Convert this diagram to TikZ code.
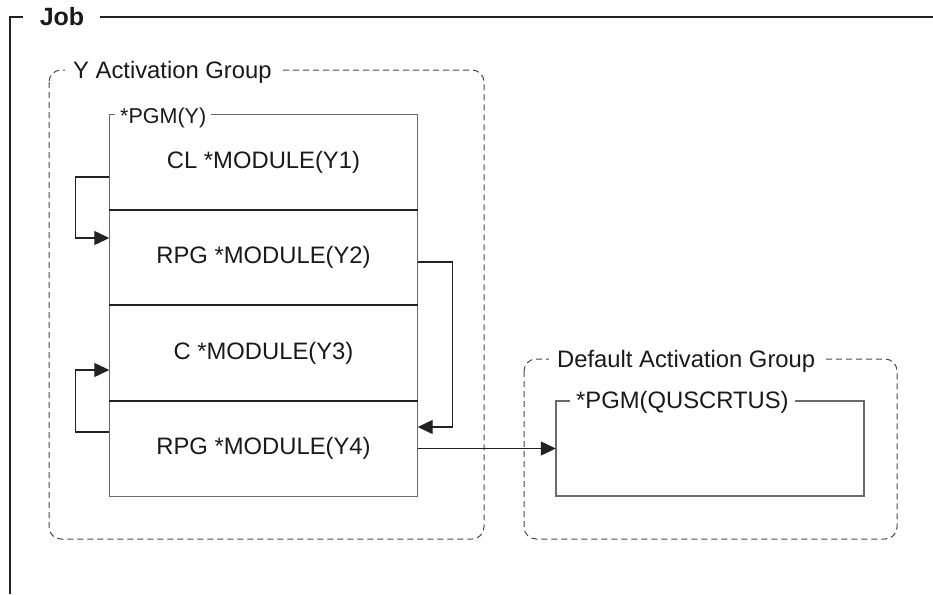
\documentclass[tikz,border=0pt]{standalone}
\usepackage{fontspec}
\setmainfont{Liberation Sans}
\usetikzlibrary{arrows.meta}
\definecolor{txt}{HTML}{1A1A1A}
\definecolor{boxc}{HTML}{6A6A6A}
\definecolor{dark}{HTML}{222222}
\definecolor{dashc}{HTML}{4A4A4A}
\tikzset{
  big/.style={font=\fontsize{23.8}{28}\selectfont, text=txt},
  small/.style={font=\fontsize{21.5}{25}\selectfont, text=txt},
  section/.style={minimum width=308pt, minimum height=95.5pt, inner sep=0pt, big},
  grp/.style={draw=dashc, line width=1pt, dash pattern=on 6pt off 4pt, rounded corners=12pt},
  pgmbox/.style={draw=boxc, line width=1.5pt},
  divider/.style={draw=dark, line width=2pt},
  gaplabel/.style={fill=white, inner xsep=6pt, inner ysep=2pt, anchor=base west},
  conn/.style={draw=dark, line width=1.2pt, -{Triangle[length=15pt,width=14pt]}},
  jobline/.style={draw=dark, line width=2.5pt},
}
\begin{document}
\begin{tikzpicture}[x=1pt, y=-1pt]
\useasboundingbox (0,0) rectangle (933,594);
% Job frame
\draw[jobline] (10,594) -- (10,17) -- (23,17);
\draw[jobline] (100,17) -- (933,17);
\node[anchor=base, inner sep=0pt, font=\fontsize{25}{30}\bfseries, text=txt] (job) at (62,26) {Job};
% Y activation group
\draw[grp] (49,70) rectangle (484,539);
\node[gaplabel, big, inner xsep=8pt] (yag) at (65,78) {Y Activation Group};
% Default activation group
\draw[grp] (524,359) rectangle (897,539);
\node[gaplabel, big, inner xsep=8pt] (dag) at (549,367) {Default Activation Group};
% PGM(Y) sections
\node[section] (y1) at (263.5,162.5) {CL *MODULE(Y1)};
\node[section] (y2) at (263.5,257.5) {RPG *MODULE(Y2)};
\node[section] (y3) at (263.5,353) {C *MODULE(Y3)};
\node[section] (y4) at (263.5,448.5) {RPG *MODULE(Y4)};
\draw[pgmbox] (y1.north west) rectangle (y4.south east);
\draw[divider] (y1.south west) -- (y1.south east);
\draw[divider] (y2.south west) -- (y2.south east);
\draw[divider] (y3.south west) -- (y3.south east);
\node[gaplabel, small, inner xsep=5pt] (pgmy) at (115,123) {*PGM(Y)};
% PGM(QUSCRTUS)
\node[minimum width=308pt, minimum height=95pt, inner sep=0pt] (q) at (710,448.5) {};
\draw[pgmbox] (q.north west) rectangle (q.south east);
\node[gaplabel, big, inner xsep=6pt] (pgmq) at (570,408) {*PGM(QUSCRTUS)};
% connectors
\draw[conn] ([yshift=-14.5pt]y1.west) -- ++(-34,0) |- ([yshift=19.5pt]y2.west);
\draw[conn] ([yshift=16.5pt]y4.west) -- ++(-34,0) |- ([yshift=-17pt]y3.west);
\draw[conn] ([yshift=-4.5pt]y2.east) -- ++(35,0) |- ([yshift=21.5pt]y4.east);
\draw[conn] (y4.east) -- (q.west);
\end{tikzpicture}
\end{document}
